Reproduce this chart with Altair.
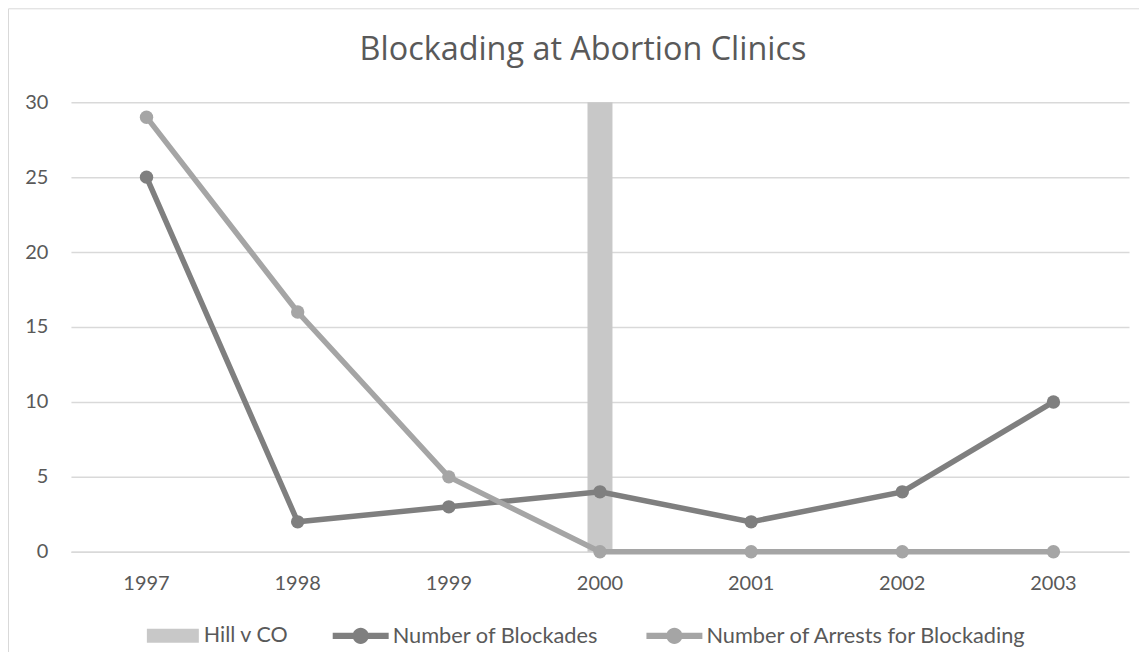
import altair as alt
import pandas as pd

# ---- data ----
years = ["1997", "1998", "1999", "2000", "2001", "2002", "2003"]
blockades = [25, 2, 3, 4, 2, 4, 10]
arrests = [29, 16, 5, 0, 0, 0, 0]
hill_years = ["2000"]
hill_values = [30]
bar_name = "Hill v CO"
series_names = ["Number of Blockades", "Number of Arrests for Blockading"]
series_colors = ["#7f7f7f", "#a5a5a5"]
bar_color = "#c8c8c8"
y_ticks = [0, 5, 10, 15, 20, 25, 30]
title_text = "Blockading at Abortion Clinics"

line_df = pd.DataFrame({
    "year": years * 2,
    "series": [series_names[0]] * len(years) + [series_names[1]] * len(years),
    "value": blockades + arrests,
})
bar_df = pd.DataFrame({
    "year": hill_years,
    "series": [bar_name] * len(hill_years),
    "value": hill_values,
})
frame_df = pd.DataFrame({"k": [0]})

FONT = "Lato"
TXT = "#595959"
GRID = "#d9d9d9"

x_enc = alt.X(
    "year:O",
    scale=alt.Scale(type="band", domain=years, paddingInner=0, paddingOuter=0),
    axis=alt.Axis(title=None, labelAngle=0, ticks=False, tickSize=0,
                  domainColor=GRID, domainWidth=1.5, labelPadding=22,
                  labelFont=FONT, labelFontSize=20, labelColor=TXT, grid=False),
)
y_enc = alt.Y(
    "value:Q",
    scale=alt.Scale(domain=[0, 30], nice=False),
    axis=alt.Axis(title=None, values=y_ticks, grid=True, gridColor=GRID, gridWidth=1.5,
                  domain=False, ticks=False, tickSize=0, labelPadding=23,
                  labelFont=FONT, labelFontSize=20, labelColor=TXT),
)

rect_path = "M-1,-0.27L1,-0.27L1,0.27L-1,0.27Z"
line_path = ("M-1,-0.11L-0.25,-0.11L-0.25,0.11L-1,0.11Z "
             "M0.25,-0.11L1,-0.11L1,0.11L0.25,0.11Z "
             "M-0.29,0A0.29,0.29 0 1,1 0.29,0A0.29,0.29 0 1,1 -0.29,0Z")

bars = alt.Chart(bar_df).mark_bar(width=25).encode(
    x=x_enc,
    y=y_enc,
    color=alt.Color(
        "series:N",
        scale=alt.Scale(domain=[bar_name], range=[bar_color]),
        legend=alt.Legend(title=None, orient="none", legendX=76, legendY=508,
                          direction="horizontal", symbolType=rect_path, symbolSize=2704,
                          symbolStrokeWidth=0, labelFont=FONT, labelFontSize=21.5,
                          labelColor=TXT, labelOffset=5, labelLimit=0, padding=0),
    ),
)

lines = alt.Chart(line_df).mark_line(strokeWidth=5.5).encode(
    x=x_enc,
    y=y_enc,
    color=alt.Color("series:N",
                    scale=alt.Scale(domain=series_names, range=series_colors),
                    legend=None),
    detail="series:N",
)

points = alt.Chart(line_df).mark_point(filled=True, size=180, opacity=1, shape="circle").encode(
    x=x_enc,
    y=y_enc,
    color=alt.Color(
        "series:N",
        scale=alt.Scale(domain=series_names, range=series_colors),
        legend=alt.Legend(title=None, orient="none", legendX=262, legendY=506,
                          direction="horizontal", symbolType=line_path, symbolSize=3136,
                          symbolStrokeWidth=0, symbolOpacity=1, columnPadding=48,
                          labelFont=FONT, labelFontSize=21.8, labelColor=TXT,
                          labelOffset=4, labelLimit=0, padding=0),
    ),
)

frame = alt.Chart(frame_df).mark_rect(fill="white", fillOpacity=0, stroke=GRID, strokeWidth=1).encode(
    x=alt.value(-62.5), x2=alt.value(1100), y=alt.value(-93.5), y2=alt.value(700)
)

chart = alt.layer(frame, bars, lines, points).resolve_scale(
    color="independent"
).properties(
    width=1059,
    height=450,
    padding={"left": 63, "top": 94, "right": 10, "bottom": 100},
    autosize=alt.AutoSizeParams(type="none"),
    background="white",
    title=alt.TitleParams(title_text, font="Open Sans", fontSize=32.4, fontWeight="normal",
                          color=TXT, anchor="middle", dx=-17, offset=-58),
).configure_view(stroke=None)

chart.save("out.html", embed_options={"renderer": "svg", "actions": False})
